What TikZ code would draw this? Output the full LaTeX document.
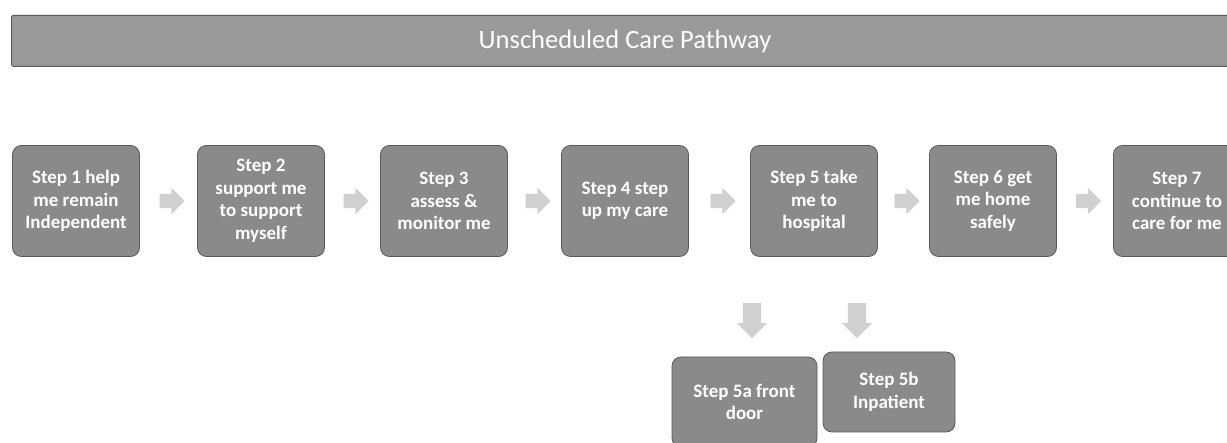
\documentclass[tikz,border=0pt]{standalone}
\usepackage{fontspec}
\setmainfont{Carlito}
\usetikzlibrary{shapes.arrows,calc}
\definecolor{boxfill}{HTML}{8A8A8A}
\definecolor{boxline}{HTML}{5A5A5A}
\definecolor{banfill}{HTML}{9A9A9A}
\definecolor{arrfill}{HTML}{D0D0D0}
\tikzset{
  stepbox/.style={draw=boxline, line width=0.8pt, fill=boxfill, rounded corners=9pt,
    text=white, font=\fontsize{19}{22.5}\selectfont\bfseries, align=center,
    minimum width=127pt, minimum height=111pt, inner sep=0pt},
  rarrow/.style={single arrow, draw=none, fill=arrfill, minimum height=25pt,
    inner sep=7pt, single arrow head extend=6pt, single arrow tip angle=90},
  darrow/.style={single arrow, draw=none, fill=arrfill, minimum height=35pt,
    inner sep=9pt, single arrow head extend=6pt, single arrow tip angle=90,
    shape border rotate=270},
}
\begin{document}
\begin{tikzpicture}[x=1pt,y=-1pt]
\useasboundingbox (0,0) rectangle (1227,443);
\clip (0,0) rectangle (1227,443);
% banner
\node[draw=boxline, line width=0.8pt, fill=banfill, rounded corners=2pt, minimum width=1230pt,
  minimum height=51pt, inner sep=0pt, anchor=north west] (banner) at (11,15) {};
\node[text=white, font=\fontsize{26.5}{30}\selectfont] (title) at (625,41) {Unscheduled Care Pathway};
% row of steps
\node[stepbox] (s1) at (76,201) {Step 1 help\\me remain\\Independent};
\node[stepbox] (s2) at (261,201) {Step 2\\support me\\to support\\myself};
\node[stepbox] (s3) at (444,201) {Step 3\\assess \&\\monitor me};
\node[stepbox] (s4) at (625,201) {Step 4 step\\up my care};
\node[stepbox] (s5) at (814,201) {Step 5 take\\me to\\hospital};
\node[stepbox] (s6) at (993,201) {Step 6 get\\me home\\safely};
\node[stepbox] (s7) at (1177,201) {Step 7\\continue to\\care for me};
% sub steps
\node[stepbox, minimum width=145pt, minimum height=90pt] (s5a) at (744.5,402) {Step 5a front\\door};
\node[stepbox, minimum width=132pt, minimum height=80pt] (s5b) at (889,392) {Step 5b\\Inpatient};
% arrows
\node[rarrow] (a12) at ($(s1.east)!0.5!(s2.west)$) {};
\node[rarrow] (a23) at ($(s2.east)!0.5!(s3.west)$) {};
\node[rarrow] (a34) at ($(s3.east)!0.5!(s4.west)$) {};
\node[rarrow] (a45) at ($(s4.east)!0.5!(s5.west)$) {};
\node[rarrow] (a56) at ($(s5.east)!0.5!(s6.west)$) {};
\node[rarrow] (a67) at ($(s6.east)!0.5!(s7.west)$) {};
\node[darrow] (d5a) at (752,316) {};
\node[darrow] (d5b) at (857,316) {};
\end{tikzpicture}
\end{document}
